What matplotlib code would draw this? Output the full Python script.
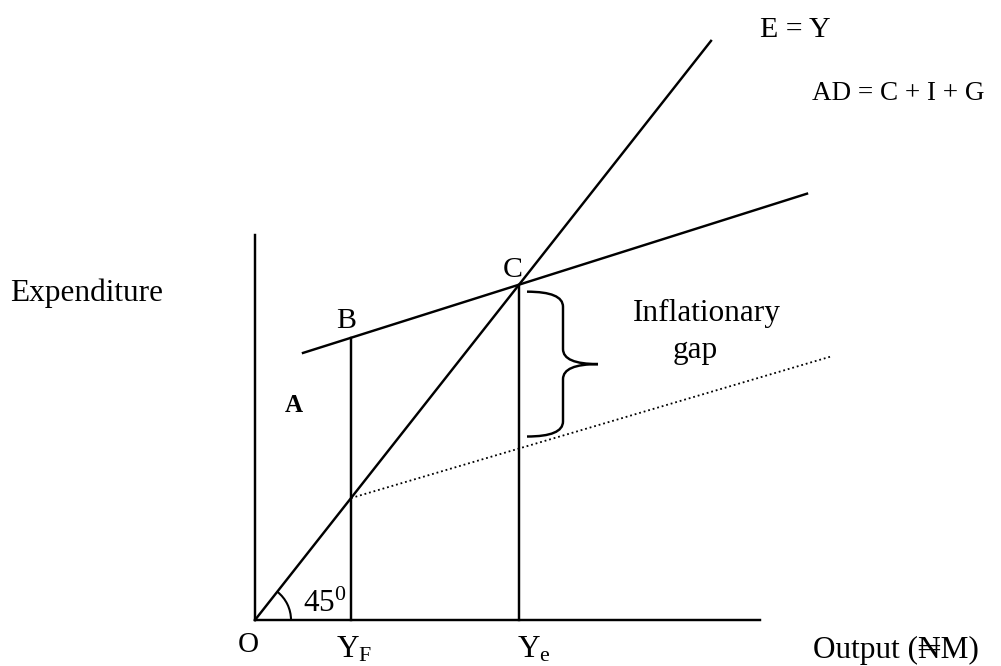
import numpy as np
import matplotlib
matplotlib.use('Agg')
import matplotlib.pyplot as plt
from matplotlib.patches import Arc, PathPatch
from matplotlib.path import Path

plt.rcParams['font.family'] = ['Liberation Serif', 'DejaVu Serif']
plt.rcParams['mathtext.default'] = 'regular'

# diagram data (output on x, expenditure on y, origin O at 0,0)
slope_45 = 1.27               # E = Y line as drawn
ey_end = 456                  # x where E = Y line stops
ad_intercept = 251.9          # AD = C + I + G
ad_slope = 0.316
ad_range = [48, 552]
adf_slope = 0.295             # dotted AD at full employment
adf_end = 575
y_full = 96                   # Y_F
y_eq = 264                    # Y_e
axis_x_len = 505
axis_y_len = 385

def ad(x):
    return ad_intercept + ad_slope * np.asarray(x)

adf_intercept = slope_45 * y_full - adf_slope * y_full

def adf(x):
    return adf_intercept + adf_slope * np.asarray(x)

fig = plt.figure(figsize=(10.01, 6.66), dpi=100)
ax = fig.add_axes([0, 0, 1, 1])
ax.set_xlim(-255, 746)
ax.set_ylim(-46, 620)
ax.axis('off')

lw = 1.75
# axes
ax.plot([0, 0], [0, axis_y_len], color='black', lw=lw)
ax.plot([0, axis_x_len], [0, 0], color='black', lw=lw)

# E = Y
ax.plot([0, ey_end], [0, slope_45 * ey_end], color='black', lw=lw)

# AD line
ax.plot(ad_range, ad(ad_range), color='black', lw=lw)

# dotted AD
ax.plot([y_full, adf_end], adf([y_full, adf_end]), color='black', lw=1.3,
        linestyle=(0, (1, 1.6)))

# verticals at Y_F and Y_e
ax.plot([y_full, y_full], [0, ad(y_full)], color='black', lw=lw)
ax.plot([y_eq, y_eq], [0, ad(y_eq)], color='black', lw=lw)

# 45 degree arc
ang = np.degrees(np.arctan(slope_45))
ax.add_patch(Arc((0, 0), 72, 72, theta1=0, theta2=ang, color='black', lw=1.5))

# curly brace for the inflationary gap
top = ad(y_eq) - 7
bot = adf(y_eq) + 12
mid = (top + bot) / 2
x0 = y_eq + 8
x1 = y_eq + 44
x2 = y_eq + 79
r = 15
verts = [(x0, top), (x1, top), (x1, top - r),
         (x1, mid + r), (x1, mid), (x2, mid),
         (x1, mid), (x1, mid - r),
         (x1, bot + r), (x1, bot), (x0, bot)]
codes = [Path.MOVETO, Path.CURVE3, Path.CURVE3,
         Path.LINETO, Path.CURVE3, Path.CURVE3,
         Path.CURVE3, Path.CURVE3,
         Path.LINETO, Path.CURVE3, Path.CURVE3]
ax.add_patch(PathPatch(Path(verts, codes), facecolor='none', edgecolor='black', lw=lw))

fs = 22.5
ax.text(505, 583, 'E = Y', fontsize=21.5, va='baseline')
ax.text(557, 520, 'AD = C + I + G', fontsize=19.5, va='baseline')
ax.text(-245, 319, 'Expenditure', fontsize=fs, va='baseline')
ax.text(y_full - 15, ad(y_full) + 10, 'B', fontsize=21.5, va='baseline')
ax.text(y_eq - 16, ad(y_eq) + 8, 'C', fontsize=21.5, va='baseline')
ax.text(30, 208, 'A', fontsize=18, fontweight='bold', va='baseline')
ax.text(378, 299, 'Inflationary', fontsize=fs, va='baseline')
ax.text(418, 262, 'gap', fontsize=fs, va='baseline')
ax.text(-17, -32, 'O', fontsize=21, va='baseline')
ax.text(y_full - 15, -37, '$Y_F$', fontsize=fs, va='baseline')
ax.text(y_eq - 2, -38, '$Y_e$', fontsize=fs, va='baseline')
ax.text(48, 8, '$45^0$', fontsize=fs, va='baseline')
ax.text(558, -38, 'Output (\u20a6M)', fontsize=fs, va='baseline')

fig.savefig('out.png', dpi=100)
